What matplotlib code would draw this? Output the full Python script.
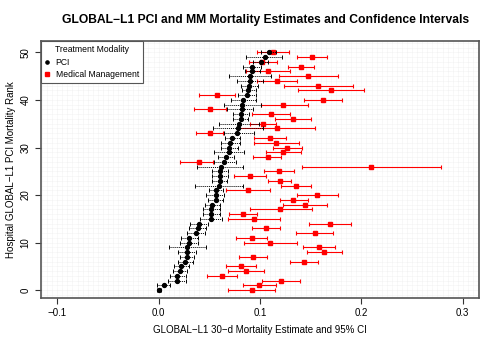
import numpy as np
import matplotlib
matplotlib.use("Agg")
import matplotlib.pyplot as plt
from matplotlib.lines import Line2D

# hospital rank (0 = lowest PCI mortality)
rank = list(range(51))

# PCI estimate and 95% CI
pci = [0.0003, 0.0053, 0.0178, 0.0184, 0.0210, 0.0224, 0.0260, 0.0276, 0.0276, 0.0283,
       0.0299, 0.0299, 0.0365, 0.0388, 0.0398, 0.0513, 0.0520, 0.0520, 0.0530, 0.0562,
       0.0562, 0.0562, 0.0595, 0.0602, 0.0602, 0.0605, 0.0611, 0.0644, 0.0661, 0.0694,
       0.0694, 0.0703, 0.0727, 0.0776, 0.0786, 0.0792, 0.0809, 0.0809, 0.0825, 0.0825,
       0.0832, 0.0874, 0.0880, 0.0890, 0.0900, 0.0900, 0.0924, 0.0924, 0.1006, 0.1045,
       0.1088]
pci_lo = [-0.0020, -0.0013, 0.0096, 0.0112, 0.0141, 0.0151, 0.0190, 0.0207, 0.0194, 0.0102,
          0.0210, 0.0217, 0.0276, 0.0299, 0.0309, 0.0408, 0.0437, 0.0441, 0.0457, 0.0486,
          0.0470, 0.0496, 0.0358, 0.0523, 0.0529, 0.0529, 0.0381, 0.0546, 0.0589, 0.0546,
          0.0611, 0.0611, 0.0651, 0.0644, 0.0539, 0.0595, 0.0733, 0.0733, 0.0677, 0.0644,
          0.0710, 0.0786, 0.0825, 0.0809, 0.0776, 0.0694, 0.0848, 0.0835, 0.0930, 0.0865,
          0.1006]
pci_hi = [0.0026, 0.0112, 0.0266, 0.0266, 0.0283, 0.0299, 0.0338, 0.0348, 0.0365, 0.0470,
          0.0388, 0.0388, 0.0454, 0.0470, 0.0490, 0.0621, 0.0602, 0.0602, 0.0602, 0.0638,
          0.0644, 0.0634, 0.0832, 0.0677, 0.0684, 0.0687, 0.0835, 0.0759, 0.0743, 0.0841,
          0.0786, 0.0802, 0.0802, 0.0940, 0.1032, 0.0989, 0.0880, 0.0890, 0.0930, 0.1006,
          0.0957, 0.0957, 0.0957, 0.0979, 0.1032, 0.1110, 0.0999, 0.1010, 0.1080, 0.1220,
          0.1160]

# medical management estimate and 95% CI
mm = [0.0917, 0.0989, 0.1203, 0.0621, 0.0865, 0.0809, 0.1433, 0.0930, 0.1630, 0.1581,
      0.1098, 0.0917, 0.1538, 0.1062, 0.1690, 0.0940, 0.0832, 0.1196, 0.1443, 0.1328,
      0.1565, 0.0884, 0.1358, 0.1193, 0.0900, 0.1187, 0.2097, 0.0398, 0.1078, 0.1230,
      0.1269, 0.1161, 0.1095, 0.0506, 0.1164, 0.1029, 0.1328, 0.1111, 0.0506, 0.1230,
      0.1624, 0.0572, 0.1696, 0.1575, 0.1167, 0.1476, 0.1078, 0.1407, 0.1020, 0.1515,
      0.1124]
mm_lo = [0.0687, 0.0832, 0.1016, 0.0480, 0.0684, 0.0667, 0.1292, 0.0792, 0.1460, 0.1427,
         0.0841, 0.0766, 0.1358, 0.0924, 0.1483, 0.0687, 0.0694, 0.0897, 0.1226, 0.1193,
         0.1368, 0.0661, 0.1210, 0.1082, 0.0743, 0.1039, 0.1410, 0.0207, 0.0930, 0.1062,
         0.1128, 0.0940, 0.0940, 0.0372, 0.0792, 0.0900, 0.1144, 0.0924, 0.0348, 0.1006,
         0.1433, 0.0398, 0.1374, 0.1236, 0.0973, 0.1187, 0.0858, 0.1280, 0.0890, 0.1360,
         0.0973]
mm_hi = [0.1147, 0.1154, 0.1394, 0.0769, 0.1039, 0.0963, 0.1571, 0.1065, 0.1805, 0.1739,
         0.1368, 0.1072, 0.1719, 0.1193, 0.1900, 0.1196, 0.0966, 0.1516, 0.1663, 0.1473,
         0.1768, 0.1098, 0.1506, 0.1309, 0.1055, 0.1334, 0.2788, 0.0536, 0.1203, 0.1400,
         0.1417, 0.1384, 0.1252, 0.0638, 0.1542, 0.1154, 0.1506, 0.1295, 0.0667, 0.1476,
         0.1811, 0.0753, 0.2025, 0.1916, 0.1368, 0.1768, 0.1295, 0.1530, 0.1170, 0.1663,
         0.1285]


def main():
    plt.rcParams['font.family'] = ['Liberation Sans', 'DejaVu Sans']
    fig = plt.figure(figsize=(5, 3.5), dpi=100)
    ax = fig.add_axes([0.082, 0.149, 0.876, 0.734])

    # fine dotted background grid
    for gx in np.arange(-0.115, 0.32, 0.005):
        ax.axvline(gx, color='#e8e8e8', lw=0.4, ls=(0, (1, 1)), zorder=0)
    for gy in range(-1, 53):
        ax.axhline(gy, color='#e8e8e8', lw=0.4, ls=(0, (1, 1)), zorder=0)

    y = np.array(rank)
    # medical management (red, drawn under PCI)
    ax.hlines(y, mm_lo, mm_hi, color='red', lw=0.8, zorder=2)
    ax.plot(mm_lo, y, ls='none', marker='|', ms=3.5, mew=0.8, color='red', zorder=2)
    ax.plot(mm_hi, y, ls='none', marker='|', ms=3.5, mew=0.8, color='red', zorder=2)
    ax.plot(mm, y, ls='none', marker='s', ms=3.0, color='red', zorder=3)

    # PCI (black, dotted CI)
    ax.hlines(y, pci_lo, pci_hi, color='black', lw=0.7, linestyles=(0, (1, 1)), zorder=4)
    ax.plot(pci_lo, y, ls='none', marker='|', ms=3.5, mew=0.7, color='black', zorder=4)
    ax.plot(pci_hi, y, ls='none', marker='|', ms=3.5, mew=0.7, color='black', zorder=4)
    ax.plot(pci, y, ls='none', marker='o', ms=2.8, color='black', zorder=5)

    ax.set_xlim(-0.116, 0.316)
    ax.set_ylim(-1.6, 52.4)
    ax.set_xticks([-0.1, 0.0, 0.1, 0.2, 0.3])
    ax.set_xticklabels(['\u22120.1', '0.0', '0.1', '0.2', '0.3'])
    ax.set_yticks([0, 10, 20, 30, 40, 50])
    ax.tick_params(labelsize=7, length=4, width=0.8, color='#333333')
    for lab in ax.get_yticklabels():
        lab.set_rotation(90)
        lab.set_va('center')
    for s in ax.spines.values():
        s.set_color('#555555')
        s.set_linewidth(1.2)

    ax.set_xlabel('GLOBAL\u2212L1 30\u2212d Mortality Estimate and 95% CI', fontsize=7, labelpad=5)
    ax.set_ylabel('Hospital GLOBAL\u2212L1 PCI Mortality Rank', fontsize=7, labelpad=3)
    # title centred over the plot region
    fig.text(0.532, 0.942, 'GLOBAL\u2212L1 PCI and MM Mortality Estimates and Confidence Intervals',
             fontsize=8.7, fontweight='bold', ha='center', va='center')

    handles = [Line2D([], [], ls='none', marker='o', ms=2.3, color='black'),
               Line2D([], [], ls='none', marker='s', ms=2.6, color='red')]
    leg = ax.legend(handles, ['PCI', 'Medical Management'], title='Treatment Modality',
                    loc='upper left', fontsize=6.2, title_fontsize=6.2, frameon=True,
                    fancybox=False, framealpha=1, borderaxespad=0, handlelength=0.5,
                    handletextpad=0.7, borderpad=0.5, labelspacing=0.4)
    leg.get_frame().set_edgecolor('#555555')
    leg.get_frame().set_linewidth(0.8)
    leg.set_zorder(10)

    fig.savefig('out.png', dpi=100)


if __name__ == "__main__":
    main()
